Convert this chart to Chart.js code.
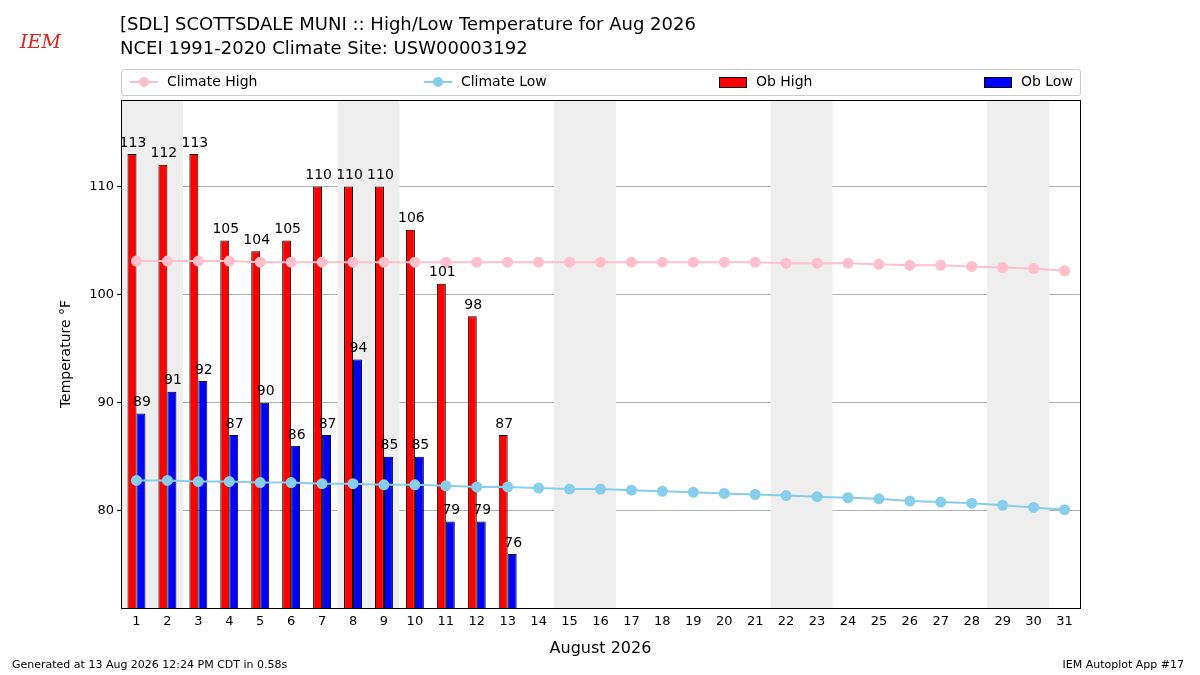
<!DOCTYPE html>
<html><head><meta charset="utf-8">
<script src="https://cdn.jsdelivr.net/npm/chart.js@4/dist/chart.umd.min.js"></script>
<style>
body{margin:0;width:1200px;height:675px;position:relative;font-family:"DejaVu Sans",sans-serif;background:#fff;overflow:hidden}
#wrap{position:absolute;left:0;top:0;width:1200px;height:675px}
.t{position:absolute;color:#000;white-space:nowrap}
#legend{position:absolute;left:121px;top:69px;width:958px;height:25px;border:1px solid #ccc;border-radius:3px;font-size:14px}
.li{position:absolute;top:3px}
</style></head><body>
<div id="wrap"><canvas id="c" width="1200" height="675"></canvas></div>
<div class="t" style="left:20px;top:30px;font-size:19px;color:#d22;font-style:italic;font-family:'DejaVu Serif',serif">IEM</div>
<div class="t" style="left:120px;top:13px;font-size:18px">[SDL] SCOTTSDALE MUNI :: High/Low Temperature for Aug 2026</div>
<div class="t" style="left:120px;top:37px;font-size:18px">NCEI 1991-2020 Climate Site: USW00003192</div>
<div id="legend">
 <div class="li" style="left:8px"><span style="display:inline-block;width:28px;height:2px;background:pink;vertical-align:middle;position:relative"><span style="position:absolute;left:9px;top:-4px;width:10px;height:10px;border-radius:5px;background:pink"></span></span>&nbsp; Climate High</div>
 <div class="li" style="left:302px"><span style="display:inline-block;width:28px;height:2px;background:skyblue;vertical-align:middle;position:relative"><span style="position:absolute;left:9px;top:-4px;width:10px;height:10px;border-radius:5px;background:skyblue"></span></span>&nbsp; Climate Low</div>
 <div class="li" style="left:597px"><span style="display:inline-block;width:26px;height:9px;background:red;border:1px solid #000;vertical-align:middle"></span>&nbsp; Ob High</div>
 <div class="li" style="left:862px"><span style="display:inline-block;width:26px;height:9px;background:blue;border:1px solid #000;vertical-align:middle"></span>&nbsp; Ob Low</div>
</div>
<div class="t" style="left:12px;top:658px;font-size:11px">Generated at 13 Aug 2026 12:24 PM CDT in 0.58s</div>
<div class="t" style="right:16px;top:658px;font-size:11px">IEM Autoplot App #17</div>
<script>
const days = Array.from({length:31},(_, i)=>String(i+1));
const obHigh = [113,112,113,105,104,105,110,110,110,106,101,98,87];
const obLow = [89,91,92,87,90,86,87,94,85,85,79,79,76];
const climHigh = [103.1,103.1,103.1,103.1,103.0,103.0,103.0,103.0,103.0,103.0,103.0,103.0,103.0,103.0,103.0,103.0,103.0,103.0,103.0,103.0,103.0,102.9,102.9,102.9,102.8,102.7,102.7,102.6,102.5,102.4,102.2];
const climLow = [82.8,82.8,82.7,82.7,82.6,82.6,82.5,82.5,82.4,82.4,82.3,82.2,82.2,82.1,82.0,82.0,81.9,81.8,81.7,81.6,81.5,81.4,81.3,81.2,81.1,80.9,80.8,80.7,80.5,80.3,80.1];
const weekendStarts = [1,8,15,22,29];

const bands = {
  id:'bands',
  beforeDatasetsDraw(ch){
    const {ctx, chartArea:a, scales:{x}} = ch;
    const w = x.getPixelForValue(1)-x.getPixelForValue(0);
    ctx.save(); ctx.fillStyle='#eeeeee';
    weekendStarts.forEach(d=>{
      const l = x.getPixelForValue(d-1)-w/2;
      ctx.fillRect(Math.max(l,a.left), a.top, l<a.left? 2*w-(a.left-l):2*w, a.bottom-a.top);
    });
    ctx.restore();
  },
  afterDraw(ch){
    const {ctx, chartArea:a} = ch;
    ctx.save(); ctx.strokeStyle='#000'; ctx.lineWidth=1;
    ctx.strokeRect(a.left+0.5,a.top+0.5,a.width,a.height);
    ctx.fillStyle='#000'; ctx.font='14px "DejaVu Sans"'; ctx.textAlign='center'; ctx.textBaseline='bottom';
    [0,1].forEach(i=>{
      ch.getDatasetMeta(i).data.forEach((b,j)=>{
        ctx.fillText(ch.data.datasets[i].data[j], b.x+1, b.y-4);
      });
    });
    ctx.restore();
  }
};

new Chart(document.getElementById('c'),{
  data:{labels:days,datasets:[
    {type:'bar',label:'Ob High',data:obHigh,backgroundColor:'red',borderColor:'#000',borderWidth:1,borderSkipped:false,categoryPercentage:0.58,barPercentage:1,order:2},
    {type:'bar',label:'Ob Low',data:obLow,backgroundColor:'blue',borderColor:'#000',borderWidth:1,borderSkipped:false,categoryPercentage:0.58,barPercentage:1,order:2},
    {type:'line',label:'Climate High',data:climHigh,borderColor:'pink',backgroundColor:'pink',pointRadius:4.5,borderWidth:2,order:1},
    {type:'line',label:'Climate Low',data:climLow,borderColor:'skyblue',backgroundColor:'skyblue',pointRadius:4.5,borderWidth:2,order:1}
  ]},
  options:{
    responsive:false,animation:false,
    layout:{padding:{top:100,right:120,left:58,bottom:17}},
    plugins:{legend:{display:false},tooltip:{enabled:false}},
    scales:{
      x:{grid:{display:false,drawTicks:true,tickLength:4},border:{display:false},
         ticks:{color:'#000',font:{size:13,family:'DejaVu Sans'},maxRotation:0,autoSkip:false,padding:2},
         title:{display:true,text:'August 2026',color:'#000',font:{size:16,family:'DejaVu Sans'},padding:{top:2,bottom:0}},
         afterFit(s){s.height=50;}},
      y:{min:71,max:118,
         afterBuildTicks(s){s.ticks=[80,90,100,110].map(v=>({value:v}));},
         afterFit(s){s.width=63;},
         grid:{color:'#b0b0b0',drawTicks:true,tickLength:4,tickColor:'#000'},border:{display:false},
         ticks:{color:'#000',font:{size:13,family:'DejaVu Sans'}},
         title:{display:true,text:'Temperature °F',color:'#000',font:{size:14,family:'DejaVu Sans'},padding:0}}
    }
  },
  plugins:[bands]
});
</script>
</body></html>
